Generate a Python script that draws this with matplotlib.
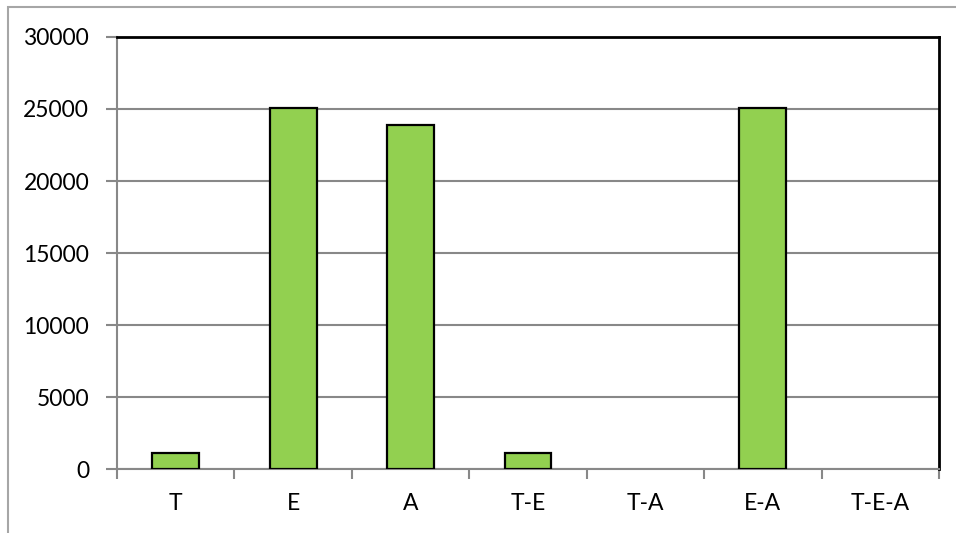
import matplotlib.pyplot as plt
from matplotlib.patches import Rectangle
import numpy as np

# data
categories = ['T', 'E', 'A', 'T-E', 'T-A', 'E-A', 'T-E-A']
counts = [1100, 25050, 23900, 1100, 0, 25050, 0]
yticks = [0, 5000, 10000, 15000, 20000, 25000, 30000]

plt.rcParams['font.family'] = ['Lato', 'DejaVu Sans']

W, H = 956, 533
fig = plt.figure(figsize=(W/100, H/100), dpi=100)

# outer chart frame (only top/left visible in the reference)
fig.patches.append(Rectangle((8/W, -0.1), 1.2, 1 - 7/H + 0.1, transform=fig.transFigure,
                             fill=False, edgecolor='#a6a6a6', lw=1.5))

ax = fig.add_axes([117/W, (H-469)/H, (939-117)/W, (469-37)/H])

x = np.arange(len(categories))
edges = ['black' if c > 0 else 'none' for c in counts]
ax.bar(x, counts, width=0.4, color='#92d050', edgecolor=edges, linewidth=1.6, zorder=3)

ax.set_xlim(-0.5, len(categories) - 0.5)
ax.set_ylim(0, 30000)
ax.set_yticks(yticks)
ax.set_yticklabels([str(t) for t in yticks])
ax.yaxis.grid(True, color='#888888', lw=1.5, zorder=0)

ax.set_xticks(x)
ax.set_xticklabels(categories)
ax.set_xticks(np.arange(-0.5, len(categories)), minor=True)
ax.tick_params(axis='x', which='major', length=0, pad=17, labelsize=16.5)
ax.tick_params(axis='x', which='minor', length=7, width=1.5, color='#888888', direction='out')
ax.tick_params(axis='y', length=8, width=1.5, color='#888888', pad=12, labelsize=16.5)

for s in ['left', 'bottom']:
    ax.spines[s].set_color('#888888')
    ax.spines[s].set_linewidth(1.5)
for s in ['top', 'right']:
    ax.spines[s].set_color('black')
    ax.spines[s].set_linewidth(2)
ax.set_axisbelow(True)

fig.savefig('out.png', dpi=100)
